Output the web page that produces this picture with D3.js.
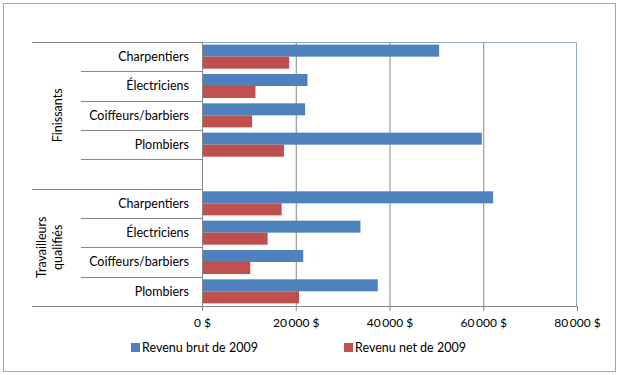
<!DOCTYPE html>
<html>
<head>
<meta charset="utf-8">
<script src="https://cdn.jsdelivr.net/npm/d3@7"></script>
<style>
  body { margin: 0; background: #fff; }
  text { font-family: Lato, "Open Sans", sans-serif; fill: #000; }
</style>
</head>
<body>
<svg id="chart"></svg>
<script>
// donnees
const groupes = [
  { nom: ['Finissants'], metiers: ['Charpentiers', 'Électriciens', 'Coiffeurs/barbiers', 'Plombiers', ''] },
  { nom: ['Travailleurs', 'qualifiés'], metiers: ['Charpentiers', 'Électriciens', 'Coiffeurs/barbiers', 'Plombiers'] }
];
const revenuBrut = [50600, 22500, 22000, 59700, null, 62100, 33800, 21600, 37500];
const revenuNet  = [18600, 11400, 10700, 17500, null, 17000, 14000, 10300, 20700];
const series = ['Revenu brut de 2009', 'Revenu net de 2009'];
const couleurs = ['#4F81BD', '#C0504D'];
const ticks = [0, 20000, 40000, 60000, 80000];

const width = 621, height = 375;
const plot = { left: 202, right: 577, top: 42, bottom: 306 };

const svg = d3.select('#chart').attr('width', width).attr('height', height);

// cadre exterieur
svg.append('rect')
  .attr('x', 3.5).attr('y', 3.5)
  .attr('width', 612).attr('height', 368)
  .attr('fill', '#fff').attr('stroke', '#A6A6A6');

// liste a plat des categories
const cats = [];
groupes.forEach((g, gi) => g.metiers.forEach((m, mi) => cats.push({ id: gi + '-' + mi, label: m })));

const x = d3.scaleLinear().domain([0, 80000]).range([plot.left, plot.right]);
const y = d3.scaleBand().domain(cats.map(c => c.id)).range([plot.top, plot.bottom]);
const ySub = d3.scaleBand().domain([0, 1]).range([0, y.bandwidth()]).paddingOuter(0.22).paddingInner(0);

// grille verticale
svg.append('g')
  .selectAll('line')
  .data(ticks.slice(1, -1))
  .join('line')
  .attr('x1', d => x(d) + 0.5).attr('x2', d => x(d) + 0.5)
  .attr('y1', plot.top).attr('y2', plot.bottom)
  .attr('stroke', '#868686');

// bord de la zone de tracé
svg.append('path')
  .attr('d', `M${plot.left},${plot.top + 0.5}H${plot.right - 0.5}V${plot.bottom}`)
  .attr('fill', 'none').attr('stroke', '#8FA8C8');

// barres
const data = cats.map((c, i) => ({ id: c.id, vals: [revenuBrut[i], revenuNet[i]] }));
const rows = svg.append('g').selectAll('g')
  .data(data)
  .join('g')
  .attr('transform', d => `translate(0,${y(d.id)})`);

rows.selectAll('rect')
  .data(d => d.vals.map((v, k) => ({ v, k })).filter(e => e.v != null))
  .join('rect')
  .attr('x', x(0))
  .attr('y', e => ySub(e.k))
  .attr('width', e => x(e.v) - x(0))
  .attr('height', ySub.bandwidth())
  .attr('fill', e => couleurs[e.k]);

// axe horizontal (libellés)
const xAxis = d3.axisBottom(x)
  .tickValues(ticks)
  .tickSize(0)
  .tickPadding(12)
  .tickFormat(d => d3.format(',')(d).replace(/,/g, '\u2009') + ' $');
const gx = svg.append('g')
  .attr('transform', `translate(0,${plot.bottom})`)
  .call(xAxis);
gx.select('.domain').remove();
gx.selectAll('text').attr('font-size', 12).attr('font-family', 'Lato, sans-serif').attr('fill', '#000');
svg.append('line')
  .attr('x1', plot.left).attr('x2', plot.right)
  .attr('y1', plot.bottom + 0.5).attr('y2', plot.bottom + 0.5)
  .attr('stroke', '#868686');
// petites graduations
svg.append('g').selectAll('line')
  .data(ticks)
  .join('line')
  .attr('x1', d => x(d) + 0.5).attr('x2', d => x(d) + 0.5)
  .attr('y1', plot.bottom).attr('y2', plot.bottom + 5)
  .attr('stroke', '#868686');

// axe vertical, multi-niveaux
svg.append('line')
  .attr('x1', plot.left + 0.5).attr('x2', plot.left + 0.5)
  .attr('y1', plot.top).attr('y2', plot.bottom)
  .attr('stroke', '#868686');

// separateurs de categories
svg.append('g').selectAll('line')
  .data(cats.slice(1))
  .join('line')
  .attr('x1', 81).attr('x2', plot.left)
  .attr('y1', d => Math.round(y(d.id)) + 0.5).attr('y2', d => Math.round(y(d.id)) + 0.5)
  .attr('stroke', '#868686');

// separateurs de groupes
let debut = 0;
const bornes = [0];
groupes.forEach(g => { debut += g.metiers.length; bornes.push(debut); });
svg.append('g').selectAll('line')
  .data(bornes)
  .join('line')
  .attr('x1', 32).attr('x2', plot.left)
  .attr('y1', i => Math.round(plot.top + i * y.step()) + 0.5)
  .attr('y2', i => Math.round(plot.top + i * y.step()) + 0.5)
  .attr('stroke', '#868686');

// libelles de categories
svg.append('g').selectAll('text')
  .data(cats)
  .join('text')
  .attr('x', 189)
  .attr('y', d => y(d.id) + y.bandwidth() / 2)
  .attr('dy', '0.35em')
  .attr('text-anchor', 'end')
  .attr('font-size', 12.5)
  .text(d => d.label);

// libelles de groupes (verticaux)
groupes.forEach((g, gi) => {
  const y0 = plot.top + bornes[gi] * y.step();
  const y1 = plot.top + bornes[gi + 1] * y.step();
  const cy = (y0 + y1) / 2;
  const n = g.nom.length;
  g.nom.forEach((ligne, li) => {
    const cx = 58 - (n - 1 - li) * 16;
    svg.append('text')
      .attr('transform', `translate(${cx},${cy}) rotate(-90)`)
      .attr('text-anchor', 'middle')
      .attr('dy', '0.35em')
      .attr('font-size', 12.5)
      .text(ligne);
  });
});

// legende
const legX = [131, 344];
const leg = svg.append('g').selectAll('g')
  .data(series)
  .join('g')
  .attr('transform', (d, i) => `translate(${legX[i]},343)`);
leg.append('rect')
  .attr('width', 9).attr('height', 9)
  .attr('fill', (d, i) => couleurs[i]);
leg.append('text')
  .attr('x', 11).attr('y', 5)
  .attr('dy', '0.35em')
  .attr('font-size', 12.5)
  .text(d => d);
</script>
</body>
</html>
